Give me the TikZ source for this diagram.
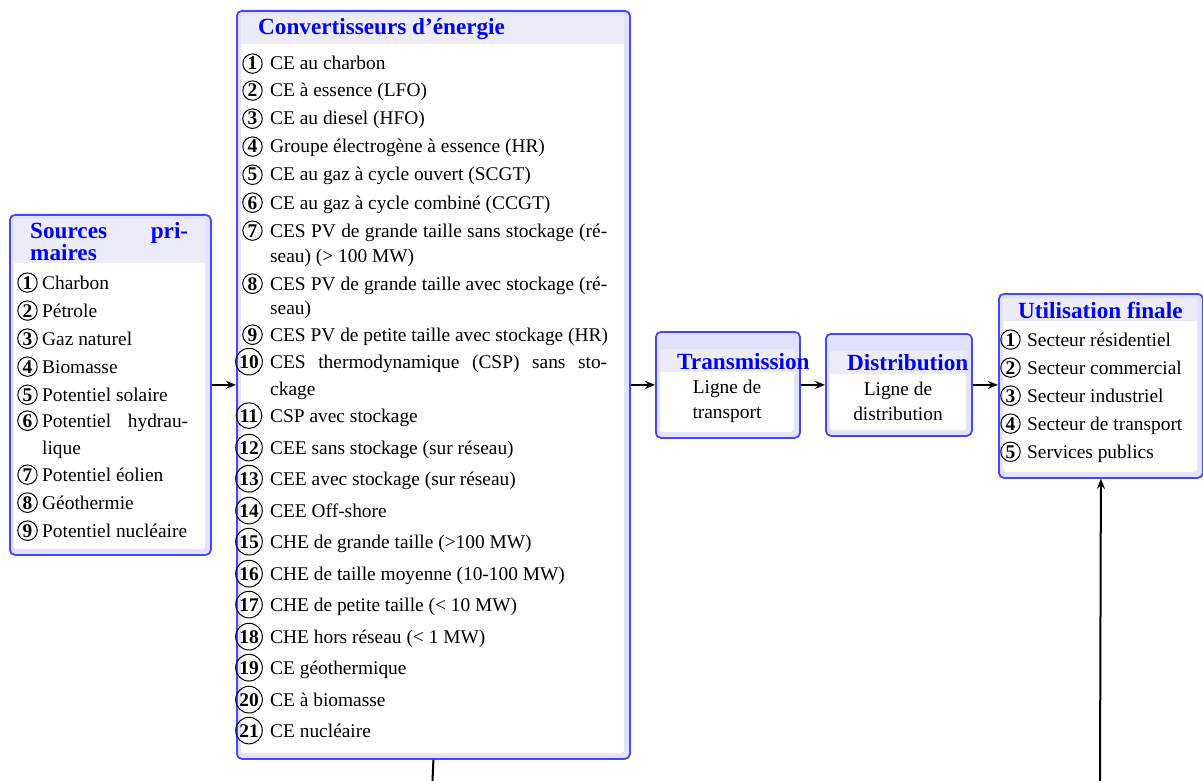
\documentclass[tikz,border=0pt]{standalone}
\usepackage{fontspec}
\setmainfont{Liberation Serif}
\usetikzlibrary{arrows.meta}
\definecolor{bordc}{RGB}{70,70,255}
\definecolor{ringc}{RGB}{226,226,252}
\definecolor{barc}{RGB}{236,236,248}
\definecolor{titlec}{RGB}{0,0,255}
\newcommand\itemfont{\fontsize{19.4}{24}\selectfont}
\newcommand\ttlfont{\fontsize{23.2}{24}\selectfont\bfseries}
\begin{document}
\begin{tikzpicture}[x=1pt,y=-1pt,
  outerbox/.style={draw=bordc, line width=1.8pt, fill=ringc, rounded corners=5pt, inner sep=0pt, anchor=north west},
  item/.style={anchor=base west, inner sep=0pt, font=\itemfont},
  ctext/.style={anchor=base, inner sep=0pt, font=\itemfont},
  cnum/.style={circle, draw, line width=1pt, inner sep=1.2pt, anchor=base, font=\itemfont\bfseries},
  ttl/.style={anchor=base west, inner sep=0pt, font=\ttlfont, text=titlec},
  arr/.style={-{Stealth[length=10pt,width=8pt]}, line width=2pt},
  plain/.style={line width=2pt}]
\useasboundingbox (0,0) rectangle (1203,781);

% ---------- Sources primaires ----------
\node[outerbox, minimum width=201pt, minimum height=340pt] (src) at (9,214) {};
\fill[white, rounded corners=3pt] (14,219) rectangle (205,549);
\fill[barc] (14,263) {[rounded corners=3pt] -- (14,219) -- (205,219)} -- (205,263) -- cycle;
\node[ttl] (srct1) at (30,238) {\makebox[158pt][s]{Sources pri-}};
\node[ttl] (srct2) at (30,260) {maires};
\foreach \n/\y/\t in {1/289/Charbon, 2/317/Pétrole, 3/345/Gaz naturel, 4/373/Biomasse,
  5/401/Potentiel solaire, 7/481/Potentiel éolien, 8/509/Géothermie, 9/537/Potentiel nucléaire}{
  \node[cnum] (sn\n) at (27.5,\y) {\n};
  \node[item] (st\n) at (42,\y) {\t};
}
\node[cnum] (sn6) at (27.5,427) {6};
\node[item] (st6) at (42,427) {\makebox[146pt][s]{Potentiel hydrau-}};
\node[item] (st6b) at (42,454) {lique};

% ---------- Convertisseurs d'energie ----------
\node[outerbox, minimum width=393pt, minimum height=748pt] (conv) at (236,10) {};
\fill[white, rounded corners=3pt] (241,15) rectangle (624,753);
\fill[barc] (241,44) {[rounded corners=3pt] -- (241,15) -- (624,15)} -- (624,44) -- cycle;
\node[ttl] (convt) at (258,35) {Convertisseurs d’énergie};
\foreach \n/\y/\t in {1/70/CE au charbon, 2/97/CE à essence (LFO), 3/125/CE au diesel (HFO),
  4/153/Groupe électrogène à essence (HR), 5/181/CE au gaz à cycle ouvert (SCGT),
  6/209/CE au gaz à cycle combiné (CCGT), 9/341/CES PV de petite taille avec stockage (HR)}{
  \node[cnum] (cn\n) at (252.5,\y) {\n};
  \node[item] (ct\n) at (270,\y) {\t};
}
\node[cnum] (cn7) at (252.5,237) {7};
\node[item] (ct7) at (270,237) {\makebox[337pt][s]{CES PV de grande taille sans stockage (ré-}};
\node[item] (ct7b) at (270,262) {seau) (> 100 MW)};
\node[cnum] (cn8) at (252.5,290) {8};
\node[item] (ct8) at (270,290) {\makebox[337pt][s]{CES PV de grande taille avec stockage (ré-}};
\node[item] (ct8b) at (270,314) {seau)};
\node[cnum] (cn10) at (249,368) {10};
\node[item] (ct10) at (270,368) {\makebox[337pt][s]{CES thermodynamique (CSP) sans sto-}};
\node[item] (ct10b) at (270,395) {ckage};
\foreach \n/\y/\t in {11/422/CSP avec stockage, 12/454/CEE sans stockage (sur réseau),
  13/485/CEE avec stockage (sur réseau), 14/517/CEE Off-shore,
  15/548/CHE de grande taille (>100 MW), 16/580/CHE de taille moyenne (10-100 MW),
  17/611/CHE de petite taille (< 10 MW), 18/643/CHE hors réseau (< 1 MW),
  19/674/CE géothermique, 20/706/CE à biomasse, 21/737/CE nucléaire}{
  \node[cnum] (cn\n) at (249,\y) {\n};
  \node[item] (ct\n) at (270,\y) {\t};
}

% ---------- Transmission ----------
\node[outerbox, minimum width=144pt, minimum height=106pt] (tr) at (655,331) {};
\fill[white, rounded corners=3pt] (660,349) rectangle (794,432);
\fill[barc] (660,372) {[rounded corners=3pt] -- (660,349) -- (794,349)} -- (794,372) -- cycle;
\node[ttl] (trt) at (677,369) {Transmission};
\node[ctext] (tr1) at (727,393) {Ligne de};
\node[ctext] (tr2) at (727,418) {transport};

% ---------- Distribution ----------
\node[outerbox, minimum width=146pt, minimum height=102pt] (dist) at (825,333) {};
\fill[white, rounded corners=3pt] (830,351) rectangle (966,430);
\fill[barc] (830,374) {[rounded corners=3pt] -- (830,351) -- (966,351)} -- (966,374) -- cycle;
\node[ttl] (dit) at (847,370) {Distribution};
\node[ctext] (di1) at (898,395) {Ligne de};
\node[ctext] (di2) at (898,420) {distribution};

% ---------- Utilisation finale ----------
\node[outerbox, minimum width=204pt, minimum height=184pt] (util) at (998,293) {};
\fill[white, rounded corners=3pt] (1003,298) rectangle (1197,472);
\fill[barc] (1003,321) {[rounded corners=3pt] -- (1003,298) -- (1197,298)} -- (1197,321) -- cycle;
\node[ttl] (ut) at (1018,318) {Utilisation finale};
\foreach \n/\y/\t in {1/346/Secteur résidentiel, 2/374/Secteur commercial, 3/402/Secteur industriel,
  4/430/Secteur de transport, 5/458/Services publics}{
  \node[cnum] (un\n) at (1010.5,\y) {\n};
  \node[item] (ut\n) at (1027,\y) {\t};
}

% ---------- Connectors ----------
\coordinate (cb) at (432.5,781);
\coordinate (ub) at (1100,781);
\draw[arr] (src.east) -- (src.east -| conv.west);
\draw[arr] (conv.east) -- (tr.west);
\draw[arr] (tr.east) -- (dist.west);
\draw[arr] (dist.east) -- (dist.east -| util.west);
\draw[plain] (conv.south) -- (cb);
\draw[arr] (ub) -- (util.south);
\end{tikzpicture}
\end{document}
